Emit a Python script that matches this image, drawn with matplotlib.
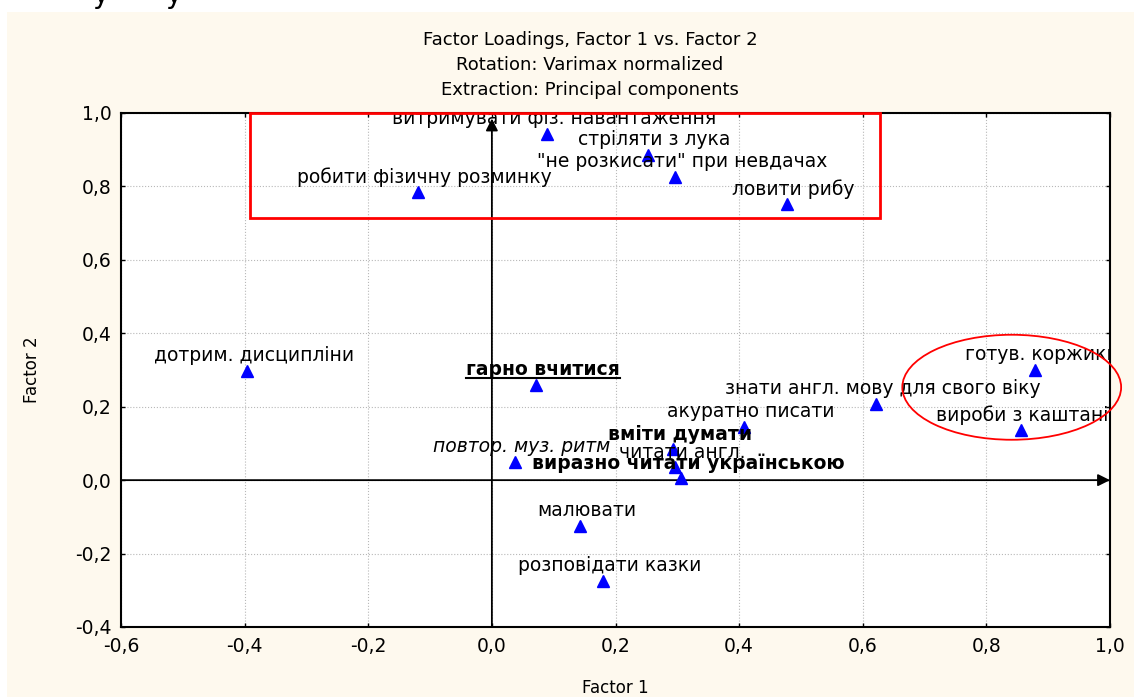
import matplotlib
matplotlib.use("Agg")
import matplotlib.pyplot as plt
from matplotlib.patches import Rectangle, Ellipse
from matplotlib.lines import Line2D
from matplotlib.ticker import FuncFormatter

plt.rcParams['font.family'] = ['DejaVu Sans']

# factor loadings
labels = ['робити фізичну розминку', 'витримувати фіз. навантаження', 'стріляти з лука',
          '"не розкисати" при невдачах', 'ловити рибу', 'дотрим. дисципліни',
          'гарно вчитися', 'знати англ. мову для свого віку', 'акуратно писати',
          'вміти думати', 'читати англ.', 'виразно читати українською',
          'повтор. муз. ритм', 'готув. коржики', 'вироби з каштанів',
          'малювати', 'розповідати казки']
factor1 = [-0.120, 0.089, 0.252, 0.296, 0.477, -0.396, 0.071, 0.621, 0.408,
           0.293, 0.296, 0.306, 0.037, 0.879, 0.856, 0.142, 0.180]
factor2 = [0.785, 0.943, 0.886, 0.826, 0.752, 0.297, 0.259, 0.207, 0.144,
           0.084, 0.035, 0.005, 0.049, 0.300, 0.136, -0.125, -0.275]

bold_labels = {'гарно вчитися', 'вміти думати', 'виразно читати українською'}
italic_labels = {'повтор. муз. ритм'}
underlined = {'гарно вчитися'}

xticks = [-0.6, -0.4, -0.2, 0.0, 0.2, 0.4, 0.6, 0.8, 1.0]
yticks = [-0.4, -0.2, 0.0, 0.2, 0.4, 0.6, 0.8, 1.0]

fig = plt.figure(figsize=(11.34, 6.97), dpi=100, facecolor='white')
# cream page area
fig.patches.append(Rectangle((7 / 1134, 0), 1, 1 - 12 / 697, transform=fig.transFigure,
                             facecolor='#fef9ee', edgecolor='none', zorder=-10))
# cut-off line of text above the chart
fig.text(92 / 1134, 1 - 3 / 697, 'у', fontsize=20, va='baseline', ha='left')
fig.text(165 / 1134, 1 - 3 / 697, 'у', fontsize=20, va='baseline', ha='left')

ax = fig.add_axes([121 / 1134, 70 / 697, 989 / 1134, 514 / 697])
ax.set_facecolor('white')
ax.set_xlim(-0.6, 1.0)
ax.set_ylim(-0.4, 1.0)
ax.set_xticks(xticks)
ax.set_yticks(yticks)
fmt = FuncFormatter(lambda v, p: ('%.1f' % v).replace('.', ','))
ax.xaxis.set_major_formatter(fmt)
ax.yaxis.set_major_formatter(fmt)
ax.tick_params(direction='in', length=3, width=1, labelsize=13.5, top=True, right=True,
               pad=7)
ax.grid(True, linestyle=':', color='#b8b8b8', linewidth=0.8)
for s in ax.spines.values():
    s.set_linewidth(1.5)

ax.set_xlabel('Factor 1', fontsize=12, labelpad=17)
ax.set_ylabel('Factor 2', fontsize=12, labelpad=24)

for i, t in enumerate(['Factor Loadings, Factor 1 vs. Factor 2',
                       'Rotation: Varimax normalized',
                       'Extraction: Principal components']):
    fig.text(590 / 1134, 1 - (40 + 25 * i) / 697, t, fontsize=13, ha='center', va='center')

# axis arrows through the origin
ax.annotate('', xy=(1.0, 0), xytext=(-0.6, 0),
            arrowprops=dict(arrowstyle='-|>', color='black', lw=1.3, mutation_scale=18,
                            shrinkA=0, shrinkB=0))
ax.annotate('', xy=(0, 0.985), xytext=(0, -0.4),
            arrowprops=dict(arrowstyle='-|>', color='black', lw=1.3, mutation_scale=18,
                            shrinkA=0, shrinkB=0))

ax.plot(factor1, factor2, linestyle='none', marker='^', color='#0000ff', markersize=8,
        zorder=5)

texts = []
for lab, x, y in zip(labels, factor1, factor2):
    w = 'bold' if lab in bold_labels else 'normal'
    st = 'italic' if lab in italic_labels else 'normal'
    t = ax.annotate(lab, (x, y), xytext=(5, 11), textcoords='offset points',
                    ha='center', va='center', fontsize=13.5, fontweight=w, fontstyle=st,
                    annotation_clip=False, clip_on=True, zorder=6)
    texts.append((lab, t))

# red highlight shapes
ax.add_patch(Rectangle((-0.392, 0.714), 1.02, 0.286, fill=False, edgecolor='#ff0000',
                       linewidth=2, zorder=7, clip_on=False))
ax.add_patch(Ellipse((0.841, 0.253), 0.354, 0.286, fill=False, edgecolor='#ff0000',
                     linewidth=1.3, zorder=7, clip_on=False))

# underline
fig.canvas.draw()
r = fig.canvas.get_renderer()
for lab, t in texts:
    if lab in underlined:
        bb = t.get_window_extent(r)
        inv = fig.transFigure.inverted()
        (x0, y0), (x1, _) = inv.transform([(bb.x0, bb.y0 + 1), (bb.x1, bb.y0 + 1)])
        fig.lines.append(Line2D([x0, x1], [y0, y0], transform=fig.transFigure,
                                color='black', linewidth=1.5))

fig.savefig('out.png', dpi=100)
